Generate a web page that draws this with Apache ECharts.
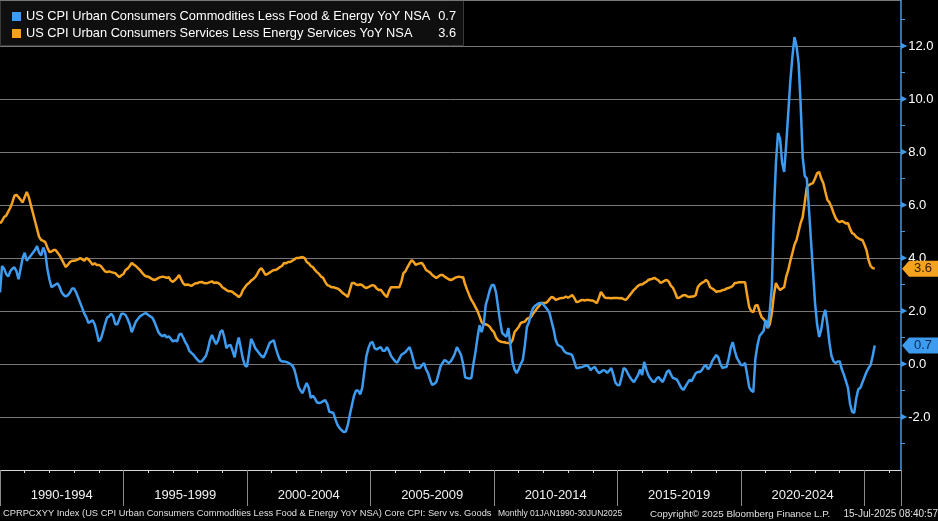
<!DOCTYPE html>
<html>
<head>
<meta charset="utf-8">
<script src="https://cdn.jsdelivr.net/npm/echarts@6/dist/echarts.min.js"></script>
<style>
html,body{margin:0;padding:0;background:#000;}
#c{width:938px;height:521px;}
</style>
</head>
<body>
<div id="c"></div>
<script>
// ---------------- DATA ----------------
const startYear = 1990;           // first month: Jan 1990, monthly to Jun 2025
const goodsName = 'US CPI Urban Consumers Commodities Less Food & Energy YoY NSA';
const servName  = 'US CPI Urban Consumers Services Less Energy Services YoY NSA';

const goodsYoY = [
  2.7, 3.7, 3.6, 3.4, 3.3, 3.5, 3.6, 3.65, 3.5, 3.2, 3.6, 4.0,
  4.2, 3.9, 4.0, 4.1, 4.2, 4.3, 4.45, 4.2, 4.1, 4.4, 4.2, 3.6,
  3.2, 2.9, 2.95, 3.0, 3.05, 2.9, 2.7, 2.6, 2.55, 2.6, 2.7, 2.85,
  2.85, 2.7, 2.5, 2.3, 2.1, 1.9, 1.75, 1.55, 1.6, 1.65, 1.5, 1.2,
  0.85, 0.95, 1.2, 1.5, 1.75, 1.8, 1.9, 1.8, 1.5, 1.5, 1.7, 1.9,
  1.9, 1.85, 1.7, 1.5, 1.2, 1.4, 1.6, 1.7, 1.8, 1.85, 1.9, 1.92,
  1.85, 1.8, 1.75, 1.6, 1.4, 1.2, 1.1, 1.05, 1.1, 1.0, 1.05, 0.95,
  0.85, 0.9, 0.85, 1.1, 1.15, 1.0, 0.83, 0.7, 0.5, 0.42, 0.35, 0.25,
  0.15, 0.08, 0.1, 0.2, 0.3, 0.55, 0.9, 1.1, 0.9, 0.75, 0.9, 1.2,
  1.28, 1.0, 0.6, 0.7, 0.72, 0.5, 0.25, 0.7, 1.0, 0.6, 0.2, -0.05,
  -0.1, 0.4, 0.95, 0.8, 0.6, 0.5, 0.4, 0.3, 0.25, 0.4, 0.6, 0.8,
  0.85, 0.9, 0.6, 0.35, 0.15, 0.1, 0.1, 0.08, 0.05, 0.0, -0.05, -0.2,
  -0.5, -0.85, -1.0, -1.1, -0.9, -0.72, -0.9, -1.28, -1.2, -1.3, -1.45, -1.47,
  -1.45, -1.4, -1.36, -1.5, -1.8, -1.82, -1.85, -2.1, -2.3, -2.42, -2.5, -2.57,
  -2.55, -2.3, -1.9, -1.55, -1.2, -1.0, -1.0, -1.15, -0.9, -0.3, 0.3, 0.6,
  0.8, 0.83, 0.6, 0.55, 0.6, 0.64, 0.5, 0.5, 0.64, 0.5, 0.3, 0.2,
  0.1, 0.05, 0.2, 0.35, 0.4, 0.45, 0.55, 0.64, 0.4, 0.1, -0.15, -0.15,
  -0.15, -0.05, 0.04, -0.2, -0.34, -0.6, -0.79, -0.75, -0.68, -0.4, -0.1, 0.04,
  0.15, 0.1, 0.04, 0.1, 0.23, 0.4, 0.64, 0.5, 0.34, 0.0, -0.5, -0.53,
  -0.55, -0.53, 0.0, 0.45, 1.0, 1.47, 1.2, 1.5, 2.23, 2.5, 2.8, 2.98,
  2.98, 2.7, 2.15, 1.6, 1.17, 1.1, 1.02, 1.36, 0.7, 0.08, -0.2, -0.34,
  -0.2, 0.0, 0.15, 0.7, 1.4, 1.58, 1.9, 2.11, 2.2, 2.25, 2.3, 2.3,
  2.25, 2.15, 2.05, 1.92, 1.6, 1.3, 0.9, 0.72, 0.68, 0.64, 0.5, 0.42,
  0.4, 0.38, 0.34, 0.1, -0.15, -0.15, -0.12, -0.11, -0.08, -0.04, -0.1, -0.23,
  -0.15, -0.11, -0.25, -0.34, -0.3, -0.23, -0.25, -0.34, -0.25, -0.15, -0.4, -0.7,
  -0.79, -0.8, -0.5, -0.15, -0.2, -0.35, -0.49, -0.6, -0.68, -0.55, -0.42, -0.2,
  -0.42, 0.08, -0.2, -0.42, -0.55, -0.65, -0.68, -0.55, -0.49, -0.6, -0.68, -0.5,
  -0.3, -0.23, -0.4, -0.53, -0.55, -0.6, -0.75, -0.9, -0.98, -0.85, -0.72, -0.6,
  -0.65, -0.5, -0.35, -0.3, -0.3, -0.23, -0.1, -0.04, -0.2, -0.1, 0.1, 0.23,
  0.34, 0.25, 0.0, -0.15, -0.12, -0.11, 0.2, 0.6, 0.83, 0.5, 0.23, 0.1,
  -0.04, -0.04, 0.04, -0.4, -0.87, -1.0, -1.06, 0.2, 0.7, 1.05, 1.15, 1.25,
  1.66, 1.36, 2.0, 2.9, 5.7, 7.6, 8.72, 8.5, 7.6, 7.25, 8.3, 9.5,
  10.7, 11.6, 12.34, 12.0, 11.36, 9.8, 7.8, 7.1, 7.0, 5.9, 4.7, 3.5,
  2.3, 1.5, 1.02, 1.3, 1.8, 2.04, 1.5, 0.8, 0.3, 0.1, 0.04, 0.1,
  0.1, -0.2, -0.4, -0.65, -0.9, -1.5, -1.8, -1.85, -1.3, -0.95, -0.9, -0.7,
  -0.5, -0.3, -0.15, -0.04, 0.3, 0.7
];

const servicesYoY = [
  5.3, 5.4, 5.55, 5.6, 5.75, 5.9, 6.1, 6.35, 6.38, 6.3, 6.2, 6.1,
  6.3, 6.49, 6.3, 6.0, 5.7, 5.4, 5.1, 4.8, 4.68, 4.65, 4.6, 4.4,
  4.23, 4.25, 4.3, 4.3, 4.2, 4.1, 3.95, 3.8, 3.66, 3.75, 3.85, 3.9,
  3.9, 3.92, 3.95, 4.0, 3.95, 3.9, 4.0, 3.95, 3.85, 3.75, 3.8, 3.74,
  3.74, 3.7, 3.6, 3.5, 3.47, 3.5, 3.47, 3.45, 3.43, 3.35, 3.28, 3.35,
  3.4, 3.55, 3.6, 3.7, 3.81, 3.75, 3.7, 3.62, 3.55, 3.45, 3.36, 3.3,
  3.3, 3.25, 3.2, 3.17, 3.2, 3.25, 3.28, 3.3, 3.28, 3.25, 3.28, 3.15,
  3.1, 3.17, 3.25, 3.36, 3.2, 3.05, 2.98, 3.0, 2.98, 2.95, 3.0, 3.05,
  3.05, 3.09, 3.1, 3.06, 3.05, 3.06, 3.09, 3.12, 3.06, 3.08, 3.06, 3.0,
  2.9, 2.85, 2.79, 2.75, 2.75, 2.72, 2.65, 2.6, 2.53, 2.6, 2.79, 2.9,
  3.0, 3.06, 3.15, 3.2, 3.28, 3.4, 3.55, 3.62, 3.5, 3.36, 3.4, 3.45,
  3.5, 3.55, 3.55, 3.6, 3.66, 3.7, 3.81, 3.8, 3.85, 3.85, 3.9, 3.95,
  4.0, 4.0, 4.02, 4.04, 4.0, 3.85, 3.8, 3.7, 3.66, 3.55, 3.47, 3.4,
  3.3, 3.25, 3.1, 2.98, 2.95, 2.9, 2.9, 2.87, 2.85, 2.8, 2.72, 2.65,
  2.6, 2.53, 2.8, 3.06, 3.06, 3.0, 2.98, 3.0, 2.98, 2.9, 2.87, 2.9,
  2.95, 2.98, 2.95, 2.85, 2.79, 2.8, 2.7, 2.6, 2.53, 2.75, 2.9, 2.9,
  2.9, 2.9, 2.9, 3.1, 3.43, 3.5, 3.66, 3.8, 3.92, 3.85, 3.74, 3.78,
  3.8, 3.81, 3.7, 3.55, 3.5, 3.45, 3.36, 3.3, 3.25, 3.3, 3.36, 3.36,
  3.3, 3.25, 3.2, 3.17, 3.2, 3.25, 3.28, 3.3, 3.28, 3.28, 3.0, 2.79,
  2.6, 2.42, 2.3, 2.15, 2.0, 1.8, 1.58, 1.5, 1.5, 1.47, 1.4, 1.28,
  1.2, 1.0, 0.9, 0.85, 0.83, 0.82, 0.8, 0.79, 0.78, 0.9, 1.21, 1.3,
  1.4, 1.55, 1.58, 1.6, 1.7, 1.74, 1.77, 1.9, 2.0, 2.11, 2.2, 2.3,
  2.3, 2.3, 2.35, 2.45, 2.53, 2.5, 2.42, 2.45, 2.48, 2.49, 2.5, 2.55,
  2.5, 2.55, 2.6, 2.5, 2.34, 2.35, 2.4, 2.42, 2.4, 2.42, 2.42, 2.4,
  2.4, 2.35, 2.3, 2.5, 2.72, 2.6, 2.5, 2.49, 2.49, 2.48, 2.49, 2.49,
  2.49, 2.48, 2.49, 2.45, 2.42, 2.5, 2.6, 2.7, 2.8, 2.87, 2.95, 3.0,
  3.0, 3.06, 3.1, 3.17, 3.2, 3.22, 3.25, 3.2, 3.15, 3.06, 3.1, 3.15,
  3.17, 3.1, 2.95, 2.87, 2.7, 2.49, 2.5, 2.55, 2.6, 2.6, 2.55, 2.53,
  2.55, 2.55, 2.6, 2.9, 3.0, 3.06, 3.1, 3.17, 3.1, 2.9, 2.85, 2.8,
  2.72, 2.75, 2.75, 2.79, 2.8, 2.85, 2.87, 2.9, 2.95, 3.06, 3.06, 3.09,
  3.09, 3.09, 3.09, 2.6, 2.15, 2.0, 1.96, 2.2, 2.23, 2.0, 1.77, 1.7,
  1.58, 1.36, 1.5, 1.92, 2.6, 3.06, 2.9, 2.79, 2.85, 2.9, 3.3, 3.55,
  3.9, 4.19, 4.5, 4.68, 5.0, 5.32, 5.55, 6.1, 6.68, 6.75, 6.8, 6.83,
  7.0, 7.2, 7.25, 7.0, 6.83, 6.5, 6.19, 6.1, 5.92, 5.7, 5.51, 5.4,
  5.35, 5.4, 5.36, 5.3, 5.32, 5.1, 4.94, 4.9, 4.8, 4.75, 4.7, 4.68,
  4.5, 4.3, 3.92, 3.7, 3.62, 3.6
];

const periodLabels = ['1990-1994','1995-1999','2000-2004','2005-2009','2010-2014','2015-2019','2020-2024'];
const footerLeft = 'CPRPCXYY Index (US CPI Urban Consumers Commodities Less Food & Energy YoY NSA) Core CPI: Serv vs. Goods';
const footerRange = 'Monthly 01JAN1990-30JUN2025';
const footerCopy = 'Copyright\u00A9 2025 Bloomberg Finance L.P.';
const footerDate = '15-Jul-2025 08:40:57';

// ---------------- CHART ----------------
const BLUE = '#3d9bf0', ORANGE = '#f5a21f';
const FONT = "'Liberation Sans', Arial, sans-serif";
const X_MIN = 1990, X_MAX = 2026.48;
const Y_MIN = -4, Y_MAX = 13.74;

const toPairs = arr => arr.map((v, i) => [startYear + i / 12, v]);
const lastGoods = goodsYoY[goodsYoY.length - 1];
const lastServ = servicesYoY[servicesYoY.length - 1];

const tagPath = 'path://M0,8 L7,0 L36,0 L36,16 L7,16 Z';
function tag(val, bg, fg) {
  return {
    symbol: tagPath, symbolSize: [36, 16], symbolOffset: [19, 0],
    silent: true,
    itemStyle: { color: bg },
    label: { show: true, position: 'inside', offset: [3, 0], formatter: val.toFixed(1),
             color: fg, fontSize: 13, fontFamily: FONT },
    data: [{ coord: [X_MAX, val] }]
  };
}

const chart = echarts.init(document.getElementById('c'), null, { renderer: 'canvas' });
const legendVals = { [goodsName]: lastGoods.toFixed(1), [servName]: lastServ.toFixed(1) };
const footStyle = (size) => ({ fill: '#e0e0e0', font: size + 'px ' + FONT });

chart.setOption({
  backgroundColor: '#000',
  animation: false,
  grid: { left: 0, right: 37, top: 0, bottom: 51, containLabel: false, outerBoundsMode: 'none' },
  graphic: [
    { type: 'rect', left: 0, top: 0, z: 0, shape: { x: 0, y: 0, width: 463, height: 45 },
      style: { fill: '#0f0f0f', stroke: '#3a3a3a', lineWidth: 1 } },
    { type: 'text', left: 3, top: 509, style: Object.assign({ text: footerLeft }, footStyle(9.3)) },
    { type: 'text', left: 498, top: 509, style: Object.assign({ text: footerRange }, footStyle(8.5)) },
    { type: 'text', left: 650, top: 509, style: Object.assign({ text: footerCopy }, footStyle(9.8)) },
    { type: 'text', right: 0, top: 509, style: Object.assign({ text: footerDate }, footStyle(10)) }
  ],
  legend: {
    orient: 'vertical', left: 12, top: 10, padding: 0, itemGap: 4, itemWidth: 9, itemHeight: 9,
    icon: 'rect', selectedMode: false, z: 10,
    data: [goodsName, servName],
    formatter: name => '{n|' + name + '}{v|' + legendVals[name] + '}',
    textStyle: {
      color: '#fff', fontFamily: FONT, fontSize: 12.8,
      rich: {
        n: { width: 407, color: '#fff', fontFamily: FONT, fontSize: 12.8, lineHeight: 15 },
        v: { width: 23, align: 'right', color: '#fff', fontFamily: FONT, fontSize: 12.8, lineHeight: 15 }
      }
    }
  },
  xAxis: [
    { type: 'value', min: X_MIN, max: X_MAX, interval: 1, position: 'bottom',
      axisLine: { show: true, onZero: false, lineStyle: { color: '#d8d8d8', width: 1 } },
      axisTick: { show: true, length: 3, lineStyle: { color: '#d8d8d8' } },
      axisLabel: { show: false }, splitLine: { show: false } },
    { type: 'value', min: X_MIN, max: X_MAX, interval: 5, position: 'bottom',
      axisLine: { show: false, onZero: false },
      axisTick: { show: true, length: 36, lineStyle: { color: '#8a8a8a' } },
      axisLabel: { show: false }, splitLine: { show: false } },
    { type: 'value', min: X_MIN, max: X_MAX, interval: 2.5, position: 'bottom',
      axisLine: { show: false, onZero: false }, axisTick: { show: false }, splitLine: { show: false },
      axisLabel: { show: true, margin: 19, color: '#f0f0f0', fontSize: 13, fontFamily: FONT,
        showMinLabel: true, showMaxLabel: true, hideOverlap: false,
        formatter: v => {
          const k = (v - (startYear + 2.5)) / 5;
          return (Math.abs(k - Math.round(k)) < 1e-6 && periodLabels[Math.round(k)]) ? periodLabels[Math.round(k)] : '';
        } } }
  ],
  yAxis: {
    type: 'value', position: 'right', min: Y_MIN, max: Y_MAX, interval: 2,
    axisLine: { show: true, onZero: false, lineStyle: { color: BLUE, width: 1.5 } },
    axisTick: { show: false },
    minorTick: { show: true, splitNumber: 2, length: 4, lineStyle: { color: BLUE, width: 1 } },
    splitLine: { show: true, lineStyle: { color: '#777', width: 1 } },
    minorSplitLine: { show: false },
    axisLabel: {
      show: true, margin: 0, showMinLabel: false, showMaxLabel: false,
      formatter: v => '{t|\u25B6}{l|' + v.toFixed(1) + '}',
      rich: {
        t: { color: BLUE, fontSize: 8, fontFamily: 'DejaVu Sans' },
        l: { color: '#fff', fontSize: 13, fontFamily: FONT, padding: [0, 0, 0, 1] }
      }
    }
  },
  series: [
    { name: goodsName, type: 'line', data: toPairs(goodsYoY), showSymbol: false, symbol: 'none',
      color: BLUE, lineStyle: { color: BLUE, width: 2.5 }, z: 3,
      markPoint: tag(lastGoods, BLUE, '#0b2a55') },
    { name: servName, type: 'line', data: toPairs(servicesYoY), showSymbol: false, symbol: 'none',
      color: ORANGE, lineStyle: { color: ORANGE, width: 2.5 }, z: 2,
      markPoint: tag(lastServ, ORANGE, '#2a1a00') }
  ]
});
</script>
</body>
</html>
